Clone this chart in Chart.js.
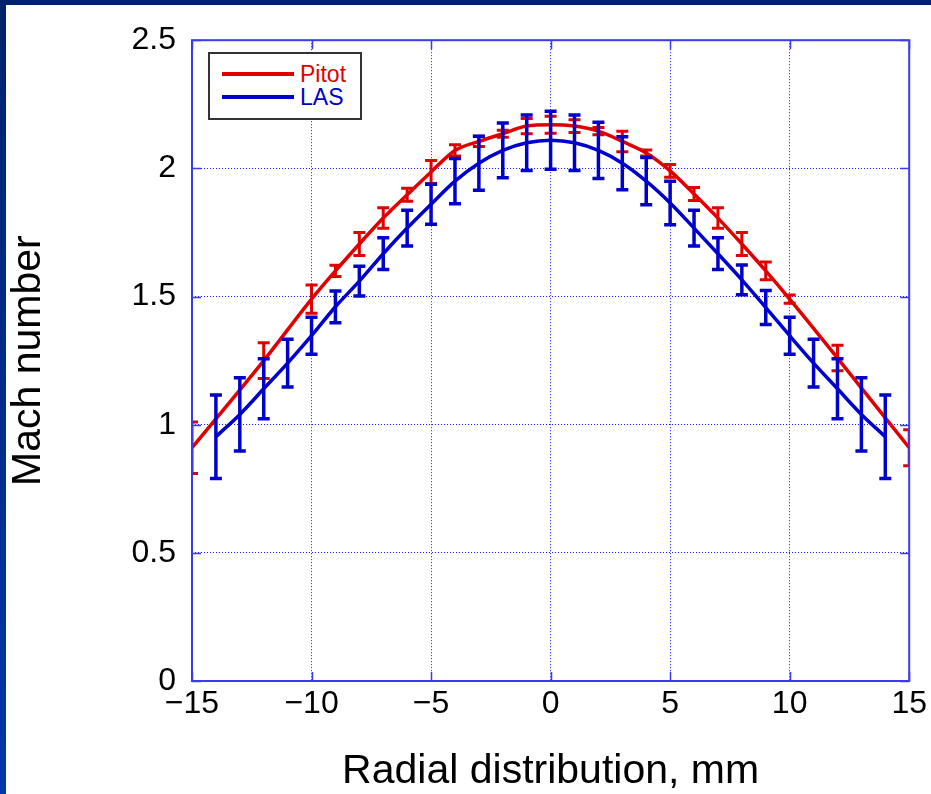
<!DOCTYPE html>
<html>
<head>
<meta charset="utf-8">
<script src="https://cdn.jsdelivr.net/npm/chart.js@4.4.1/dist/chart.umd.min.js"></script>
<style>
    html, body { margin: 0; padding: 0; background: #fff; }
    #page { position: relative; width: 931px; height: 794px; overflow: hidden; background: #fff; }
    #topBar { position: absolute; left: 0; top: 0; width: 931px; height: 5px; background: #00226b; }
    #leftBar { position: absolute; left: 0; top: 0; width: 6px; height: 794px; background: linear-gradient(#00226b, #0038a8); }
    #chartCanvas { position: absolute; left: 6px; top: 5px; }
    #legend {
        position: absolute; left: 208px; top: 52px; width: 150px; height: 64px;
        border: 2px solid #333; background: #fff;
        font-family: 'Liberation Sans', Arial, sans-serif; font-size: 23px;
    }
    .legend-row { position: absolute; left: 0; height: 24px; width: 150px; }
    .legend-line { position: absolute; left: 12px; top: 10px; width: 72px; height: 4px; }
    .legend-text { position: absolute; left: 90px; top: 0; line-height: 24px; }
</style>
</head>
<body>
<div id="page">
    <canvas id="chartCanvas" width="925" height="789"></canvas>
    <div id="topBar"></div>
    <div id="leftBar"></div>
    <div id="legend">
        <div class="legend-row" style="top: 8px;">
            <div class="legend-line" style="background: #e00000;"></div>
            <div class="legend-text" style="color: #e00000;">Pitot</div>
        </div>
        <div class="legend-row" style="top: 31px;">
            <div class="legend-line" style="background: #0000cc;"></div>
            <div class="legend-text" style="color: #0000cc;">LAS</div>
        </div>
    </div>
</div>
<script>
// Pitot measurements (mm, Mach, error)
const pitotX = [-15, -12, -10, -9, -8, -7, -6, -5, -4, -3, -2, -1, 0, 1, 2, 3, 4, 5, 6, 7, 8, 9, 10, 12, 15];
const pitotY = [0.91, 1.25, 1.49, 1.60, 1.705, 1.806, 1.897, 1.986, 2.07, 2.105, 2.135, 2.165, 2.17, 2.165, 2.145, 2.105, 2.06, 1.99, 1.90, 1.806, 1.705, 1.60, 1.49, 1.26, 0.91];
const pitotErr = [0.10, 0.07, 0.055, 0.022, 0.045, 0.04, 0.025, 0.045, 0.022, 0.02, 0.014, 0.03, 0.033, 0.025, 0.014, 0.04, 0.012, 0.025, 0.025, 0.04, 0.045, 0.035, 0.016, 0.05, 0.07];

// LAS measurements
const lasX = [-14, -13, -12, -11, -10, -9, -8, -7, -6, -5, -4, -3, -2, -1, 0, 1, 2, 3, 4, 5, 6, 7, 8, 9, 10, 11, 12, 13, 14];
const lasY = [0.953, 1.04, 1.14, 1.24, 1.347, 1.46, 1.56, 1.667, 1.767, 1.86, 1.95, 2.02, 2.07, 2.10, 2.11, 2.10, 2.07, 2.02, 1.95, 1.865, 1.767, 1.667, 1.565, 1.457, 1.347, 1.24, 1.14, 1.04, 0.953];
const lasErr = [0.163, 0.143, 0.117, 0.093, 0.072, 0.062, 0.058, 0.062, 0.07, 0.078, 0.088, 0.105, 0.107, 0.108, 0.113, 0.108, 0.11, 0.103, 0.092, 0.085, 0.07, 0.062, 0.058, 0.066, 0.072, 0.093, 0.117, 0.143, 0.163];

const xTicks = [-15, -10, -5, 0, 5, 10, 15];
const yTicks = [0, 0.5, 1, 1.5, 2, 2.5];

const axisBlue = '#3b3bf0';
const gridBlue = '#1a1aff';
const tickFont = { family: "'Liberation Sans', Arial, sans-serif", size: 32 };
const titleFont = { family: "'Liberation Sans', Arial, sans-serif", size: 41, lineHeight: 1.1 };

const toPoints = (xs, ys) => xs.map((x, i) => ({ x: x, y: ys[i] }));

// error bars, frame and inward ticks
const errorBarPlugin = {
    id: 'errorBars',
    afterDatasetsDraw(chart) {
        const { ctx, chartArea, scales } = chart;
        ctx.save();
        ctx.beginPath();
        ctx.rect(chartArea.left, chartArea.top, chartArea.right - chartArea.left, chartArea.bottom - chartArea.top);
        ctx.clip();
        const sets = [
            { xs: pitotX, ys: pitotY, es: pitotErr, color: '#e00000', width: 3 },
            { xs: lasX, ys: lasY, es: lasErr, color: '#0000cc', width: 3.5 }
        ];
        sets.forEach(s => {
            ctx.strokeStyle = s.color;
            ctx.lineWidth = s.width;
            s.xs.forEach((xv, i) => {
                const px = scales.x.getPixelForValue(xv);
                const top = scales.y.getPixelForValue(s.ys[i] + s.es[i]);
                const bot = scales.y.getPixelForValue(s.ys[i] - s.es[i]);
                ctx.beginPath();
                ctx.moveTo(px, top); ctx.lineTo(px, bot);
                ctx.moveTo(px - 6, top); ctx.lineTo(px + 6, top);
                ctx.moveTo(px - 6, bot); ctx.lineTo(px + 6, bot);
                ctx.stroke();
            });
        });
        ctx.restore();

        // frame
        ctx.save();
        ctx.strokeStyle = axisBlue;
        ctx.lineWidth = 2;
        ctx.strokeRect(chartArea.left, chartArea.top, chartArea.right - chartArea.left, chartArea.bottom - chartArea.top);
        ctx.lineWidth = 1.5;
        ctx.beginPath();
        xTicks.forEach(v => {
            const px = Math.round(scales.x.getPixelForValue(v)) + 0.5;
            ctx.moveTo(px, chartArea.bottom); ctx.lineTo(px, chartArea.bottom - 9);
            ctx.moveTo(px, chartArea.top); ctx.lineTo(px, chartArea.top + 9);
        });
        yTicks.forEach(v => {
            const py = Math.round(scales.y.getPixelForValue(v)) + 0.5;
            ctx.moveTo(chartArea.left, py); ctx.lineTo(chartArea.left + 9, py);
            ctx.moveTo(chartArea.right, py); ctx.lineTo(chartArea.right - 9, py);
        });
        ctx.stroke();
        ctx.restore();
    }
};

new Chart(document.getElementById('chartCanvas'), {
    type: 'line',
    data: {
        datasets: [
            {
                label: 'LAS',
                data: toPoints(lasX, lasY),
                borderColor: '#0000cc',
                borderWidth: 3.5,
                pointRadius: 0,
                cubicInterpolationMode: 'monotone',
                order: 0
            },
            {
                label: 'Pitot',
                data: toPoints(pitotX, pitotY),
                borderColor: '#e00000',
                borderWidth: 3.5,
                pointRadius: 0,
                cubicInterpolationMode: 'monotone',
                order: 1
            }
        ]
    },
    options: {
        responsive: false,
        animation: false,
        layout: { padding: { left: 0, top: 31, right: 18, bottom: 0 } },
        plugins: {
            legend: { display: false },
            tooltip: { enabled: false }
        },
        scales: {
            x: {
                type: 'linear',
                min: -15,
                max: 15,
                afterFit: (scale) => { scale.height = 113; },
                afterBuildTicks: (scale) => { scale.ticks = xTicks.map(v => ({ value: v })); },
                ticks: {
                    color: '#000',
                    font: tickFont,
                    padding: 4,
                    maxRotation: 0,
                    autoSkip: false,
                    callback: (v) => String(v).replace('-', '\u2212')
                },
                grid: { color: gridBlue, lineWidth: 1, drawTicks: false },
                border: { display: false, dash: [1, 2] },
                title: {
                    display: true,
                    text: 'Radial distribution, mm',
                    color: '#000',
                    font: titleFont,
                    padding: { top: 0, bottom: 0 }
                }
            },
            y: {
                min: 0,
                max: 2.5,
                afterFit: (scale) => { scale.width = 186; },
                afterBuildTicks: (scale) => { scale.ticks = yTicks.map(v => ({ value: v })); },
                ticks: {
                    color: '#000',
                    font: tickFont,
                    padding: 16,
                    callback: (v) => String(v)
                },
                grid: { color: gridBlue, lineWidth: 1, drawTicks: false },
                border: { display: false, dash: [1, 2] },
                title: {
                    display: true,
                    text: 'Mach number',
                    color: '#000',
                    font: titleFont,
                    padding: { top: 0, bottom: 8 }
                }
            }
        }
    },
    plugins: [errorBarPlugin]
});
</script>
</body>
</html>
